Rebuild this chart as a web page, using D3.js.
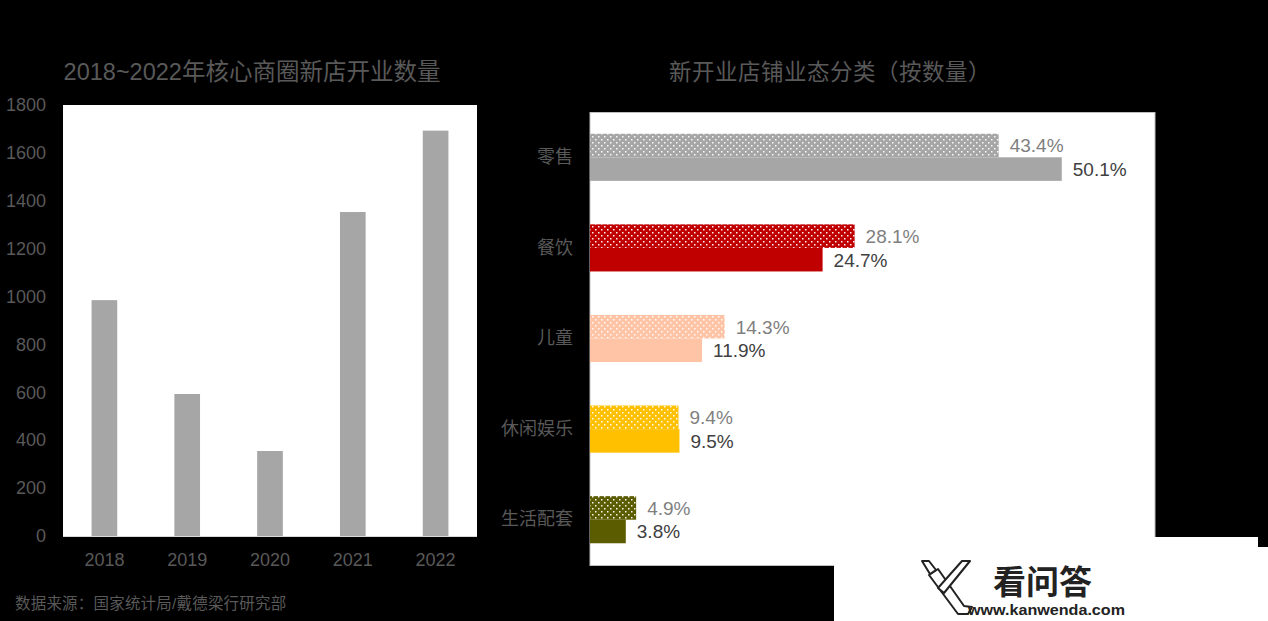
<!DOCTYPE html>
<html><head><meta charset="utf-8">
<script src="https://cdn.jsdelivr.net/npm/d3@7"></script>
<style>
html,body{margin:0;padding:0;background:#000;}
svg{display:block;}
text{font-family:"Liberation Sans","Noto Sans CJK SC",Arial,sans-serif;}
</style></head>
<body>
<svg id="chart" width="1268" height="621"></svg>
<script>
// ---- data ----
const years = ["2018", "2019", "2020", "2021", "2022"];
const openings = [985, 593, 355, 1353, 1693];
const yTicks = [0, 200, 400, 600, 800, 1000, 1200, 1400, 1600, 1800];

const categories = ["零售", "餐饮", "儿童", "休闲娱乐", "生活配套"];
const seriesDotted = [43.4, 28.1, 14.3, 9.4, 4.9];
const seriesSolid = [50.1, 24.7, 11.9, 9.5, 3.8];
const catColors = ["#a6a6a6", "#c00000", "#ffc4a6", "#ffc000", "#5b5b00"];

const leftTitle = "2018~2022年核心商圈新店开业数量";
const rightTitle = "新开业店铺业态分类（按数量）";
const sourceNote = "数据来源：国家统计局/戴德梁行研究部";

const svg = d3.select("#chart");
svg.append("rect").attr("width", 1268).attr("height", 621).attr("fill", "#000");

const textGray = "#595959";

// ---- left chart ----
const L = {x0: 63, x1: 477, y0: 105, y1: 537};
svg.append("rect").attr("x", L.x0).attr("y", L.y0).attr("width", L.x1 - L.x0).attr("height", L.y1 - L.y0).attr("fill", "#fff");

const xL = d3.scaleBand().domain(years).range([L.x0, L.x1]).paddingInner(0.69).paddingOuter(0.345);
const yL = d3.scaleLinear().domain([0, 1800]).range([536, 105]);

svg.append("g").selectAll("rect").data(years).join("rect")
  .attr("x", d => xL(d)).attr("width", xL.bandwidth())
  .attr("y", (d, i) => yL(openings[i])).attr("height", (d, i) => yL(0) - yL(openings[i]))
  .attr("fill", "#a6a6a6");

svg.append("line").attr("x1", L.x0).attr("x2", L.x1).attr("y1", 536.5).attr("y2", 536.5)
  .attr("stroke", "#d9d9d9").attr("stroke-width", 1);

const yAxisL = svg.append("g").attr("transform", "translate(46,0)")
  .call(d3.axisLeft(yL).tickValues(yTicks).tickSize(0).tickPadding(0).tickFormat(d3.format("d")));
yAxisL.select(".domain").remove();
yAxisL.selectAll("text").attr("fill", textGray).attr("font-size", 18)
  .attr("font-family", "Liberation Sans, Arial, sans-serif");

const xAxisL = svg.append("g").attr("transform", "translate(0,553)")
  .call(d3.axisBottom(xL).tickSize(0).tickPadding(0));
xAxisL.select(".domain").remove();
xAxisL.selectAll("text").attr("fill", textGray).attr("font-size", 18)
  .attr("font-family", "Liberation Sans, Arial, sans-serif");

svg.append("text").attr("x", 252).attr("y", 80).attr("text-anchor", "middle")
  .attr("fill", textGray).attr("font-size", 23.5).text(leftTitle);

svg.append("text").attr("x", 15).attr("y", 609).attr("fill", textGray)
  .attr("font-size", 15.5).attr("letter-spacing", 0.2).text(sourceNote);

// ---- right chart ----
const R = {x0: 590, x1: 1155, y0: 112, y1: 565};
svg.append("rect").attr("x", R.x0).attr("y", R.y0 + 0.5).attr("width", R.x1 - R.x0).attr("height", R.y1 - R.y0)
  .attr("fill", "#fff").attr("stroke", "#bfbfbf").attr("stroke-width", 1);

const defs = svg.append("defs");
catColors.forEach((c, i) => {
  const p = defs.append("pattern").attr("id", "dots" + i).attr("patternUnits", "userSpaceOnUse")
    .attr("width", 6).attr("height", 6);
  p.append("rect").attr("width", 6).attr("height", 6).attr("fill", c);
  p.append("rect").attr("x", 1).attr("y", 1).attr("width", 1.5).attr("height", 1.5).attr("fill", "#fff").attr("opacity", 0.95);
  p.append("rect").attr("x", 4).attr("y", 4).attr("width", 1.5).attr("height", 1.5).attr("fill", "#fff").attr("opacity", 0.95);
});

const xR = d3.scaleLinear().domain([0, 60]).range([R.x0, R.x1]);
const yR = d3.scaleBand().domain(categories).range([R.y0, R.y1]).paddingInner(0.48).paddingOuter(0.24);
const sub = d3.scaleBand().domain(["dotted", "solid"]).range([0, yR.bandwidth()]);

const gR = svg.append("g");
categories.forEach((cat, i) => {
  const yb = yR(cat);
  gR.append("rect").attr("x", xR(0)).attr("y", yb + sub("dotted"))
    .attr("width", xR(seriesDotted[i]) - xR(0)).attr("height", sub.bandwidth())
    .attr("fill", "url(#dots" + i + ")");
  gR.append("rect").attr("x", xR(0)).attr("y", yb + sub("solid"))
    .attr("width", xR(seriesSolid[i]) - xR(0)).attr("height", sub.bandwidth())
    .attr("fill", catColors[i]);
  gR.append("text").attr("x", xR(seriesDotted[i]) + 11).attr("y", yb + sub("dotted") + sub.bandwidth() / 2)
    .attr("dy", "0.36em").attr("fill", "#7f7f7f").attr("font-size", 19)
    .text(seriesDotted[i].toFixed(1) + "%");
  gR.append("text").attr("x", xR(seriesSolid[i]) + 11).attr("y", yb + sub("solid") + sub.bandwidth() / 2)
    .attr("dy", "0.36em").attr("fill", "#404040").attr("font-size", 19)
    .text(seriesSolid[i].toFixed(1) + "%");
});

const yAxisR = svg.append("g").attr("transform", "translate(573,0)")
  .call(d3.axisLeft(yR).tickSize(0).tickPadding(0));
yAxisR.select(".domain").remove();
yAxisR.selectAll("text").attr("fill", textGray).attr("font-size", 18)
  .attr("font-family", "Noto Sans CJK SC, sans-serif");

svg.append("text").attr("x", 830).attr("y", 80).attr("text-anchor", "middle")
  .attr("fill", textGray).attr("font-size", 22.5).attr("letter-spacing", 0.5)
  .attr("font-family", "Noto Sans CJK SC, sans-serif")
  .text(rightTitle);

// ---- watermark ----
svg.append("rect").attr("x", 834).attr("y", 537).attr("width", 434).attr("height", 84).attr("fill", "#fff");
svg.append("rect").attr("x", 1258).attr("y", 537).attr("width", 10).attr("height", 10).attr("fill", "#000");
const wm = svg.append("g").attr("fill", "#fff").attr("stroke", "#222").attr("stroke-width", 2).attr("stroke-linejoin", "round");
// long "\" stroke
wm.append("path").attr("d", "M929,575 L938,569 L964,606 L972,607 L968,614 L958,614 Z");
// "/" stroke
wm.append("path").attr("d", "M938,588 L962,561 L970,561 L944,593 Z");
// small top-left "\" piece
wm.append("path").attr("d", "M922,561 L929,561 L936,570 L930,574 Z");
wm.append("text").attr("x", 993).attr("y", 594).attr("font-size", 33).attr("font-weight", "bold")
  .attr("fill", "#222").attr("stroke", "none").attr("font-family", "Noto Sans CJK SC, sans-serif").text("看问答");
wm.append("text").attr("x", 968).attr("y", 615).attr("font-size", 15).attr("font-weight", "bold")
  .attr("fill", "#222").attr("stroke", "none").attr("textLength", 157).attr("lengthAdjust", "spacingAndGlyphs").text("www.kanwenda.com");
</script>
</body></html>
